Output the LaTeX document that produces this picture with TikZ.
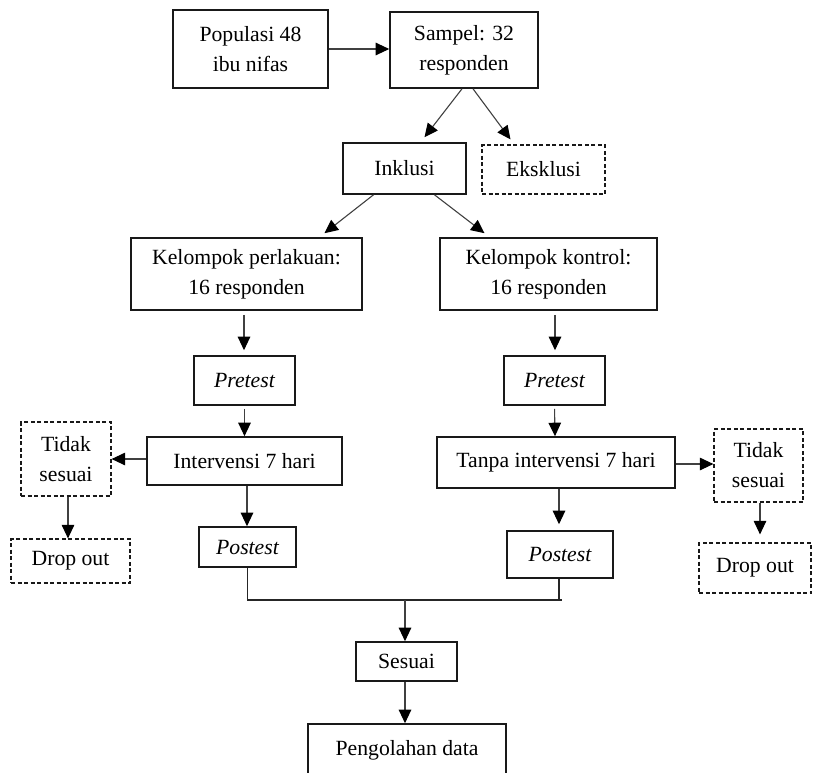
\documentclass[tikz,border=0pt]{standalone}
\usepackage{fontspec}
\setmainfont{Liberation Serif}
\usetikzlibrary{arrows.meta}
\begin{document}
\begin{tikzpicture}[x=1pt,y=-1pt,
  box/.style={draw=black!90, line width=1.6pt, align=center, inner sep=0pt,
    font=\fontsize{21.7}{30}\selectfont},
  dbox/.style={box, line width=1.2pt, dash pattern=on 4pt off 2.5pt},
  arr/.style={draw=black!75, line width=1.1pt, -{Triangle[length=13.5pt,width=12.5pt,color=black]}},
  ln/.style={draw=black!85, line width=1.1pt}]
\useasboundingbox (0,0) rectangle (813,772);
\clip (0,0) rectangle (813,772);
% nodes
\node[box, minimum width=155pt, minimum height=78pt] (pop) at (250.5,49) {Populasi 48\\ibu nifas};
\node[box, minimum width=148pt, minimum height=76pt] (samp) at (464,50) {Sampel: 32\\responden};
\node[box, minimum width=123pt, minimum height=51pt] (ink) at (404.5,168.5) {Inklusi};
\node[dbox, minimum width=123pt, minimum height=49pt] (eks) at (543.5,169.5) {Eksklusi};
\node[box, minimum width=231pt, minimum height=72pt] (kp) at (246.5,274) {Kelompok perlakuan:\\16 responden};
\node[box, minimum width=217pt, minimum height=72pt] (kk) at (548.5,274) {Kelompok kontrol:\\16 responden};
\node[box, minimum width=101pt, minimum height=49pt] (pre1) at (244.5,380.5) {\itshape Pretest};
\node[box, minimum width=101pt, minimum height=49pt] (pre2) at (554.5,380.5) {\itshape Pretest};
\node[box, minimum width=195pt, minimum height=48pt] (int) at (244.5,461) {Intervensi 7 hari};
\node[box, minimum width=238pt, minimum height=51pt] (tanpa) at (556,462.5) {Tanpa intervensi 7 hari};
\node[dbox, minimum width=90pt, minimum height=74pt] (tid1) at (66,459) {Tidak\\sesuai};
\node[dbox, minimum width=89pt, minimum height=73pt] (tid2) at (758.5,465.5) {Tidak\\sesuai};
\node[box, minimum width=97pt, minimum height=40pt] (post1) at (247.5,547) {\itshape Postest};
\node[box, minimum width=106pt, minimum height=47pt] (post2) at (560,554.5) {\itshape Postest};
\node[dbox, minimum width=119pt, minimum height=44pt] (drop1) at (70.5,561) {Drop out};
\node[dbox, minimum width=112pt, minimum height=50pt] (drop2) at (755,568) {Drop out};
\node[box, minimum width=101pt, minimum height=39pt] (ses) at (406.5,661.5) {Sesuai};
\node[box, minimum width=198pt, minimum height=52pt] (peng) at (407,750) {Pengolahan data};
\coordinate (m1) at (247.5,600);
\coordinate (m2) at (559,600);
\coordinate (m3) at (562,600);
\coordinate (mj) at (405,600);
\coordinate (a1) at ([yshift=2pt]int.west);
\coordinate (a2) at ([yshift=-1.5pt]tanpa.east);
% connectors
\draw[arr] (pop.east) -- (samp.west |- pop.east);
\draw[arr] ([xshift=-2pt]samp.south) -- ([xshift=20pt,yshift=5pt]ink.north);
\draw[arr] ([xshift=9pt]samp.south) -- ([xshift=-33pt,yshift=5pt]eks.north);
\draw[arr] ([xshift=-31pt]ink.south) -- ([xshift=78pt,yshift=4pt]kp.north);
\draw[arr] ([xshift=30pt]ink.south) -- ([xshift=-64pt,yshift=4pt]kk.north);
\draw[arr, shorten <=4pt, shorten >=5pt] ([xshift=-2.5pt]kp.south) -- ([xshift=-0.5pt]pre1.north);
\draw[arr, shorten <=4pt, shorten >=5pt] ([xshift=6.5pt]kk.south) -- ([xshift=0.5pt]pre2.north);
\draw[arr, shorten <=3pt] (pre1.south) -- (int.north);
\draw[arr, shorten <=3pt] (pre2.south) -- ([xshift=-1pt]tanpa.north);
\draw[arr] ([xshift=2.5pt]int.south) -- ([xshift=-0.5pt]post1.north);
\draw[arr, shorten >=6pt] ([xshift=3pt]tanpa.south) -- ([xshift=-1pt]post2.north);
\draw[arr] (a1) -- (tid1.east |- a1);
\draw[arr] (a2) -- (tid2.west |- a2);
\draw[arr] ([xshift=2pt]tid1.south) -- ([xshift=-2.5pt]drop1.north);
\draw[arr, shorten >=8pt] ([xshift=1.5pt]tid2.south) -- ([xshift=5pt]drop2.north);
\draw[ln] (post1.south) -- (m1) -- (m3);
\draw[ln] ([xshift=-1pt]post2.south) -- (m2);
\draw[arr] (mj) -- ([xshift=-1.5pt]ses.north);
\draw[arr] ([xshift=-1.5pt]ses.south) -- ([xshift=-2pt]peng.north);
\end{tikzpicture}
\end{document}
